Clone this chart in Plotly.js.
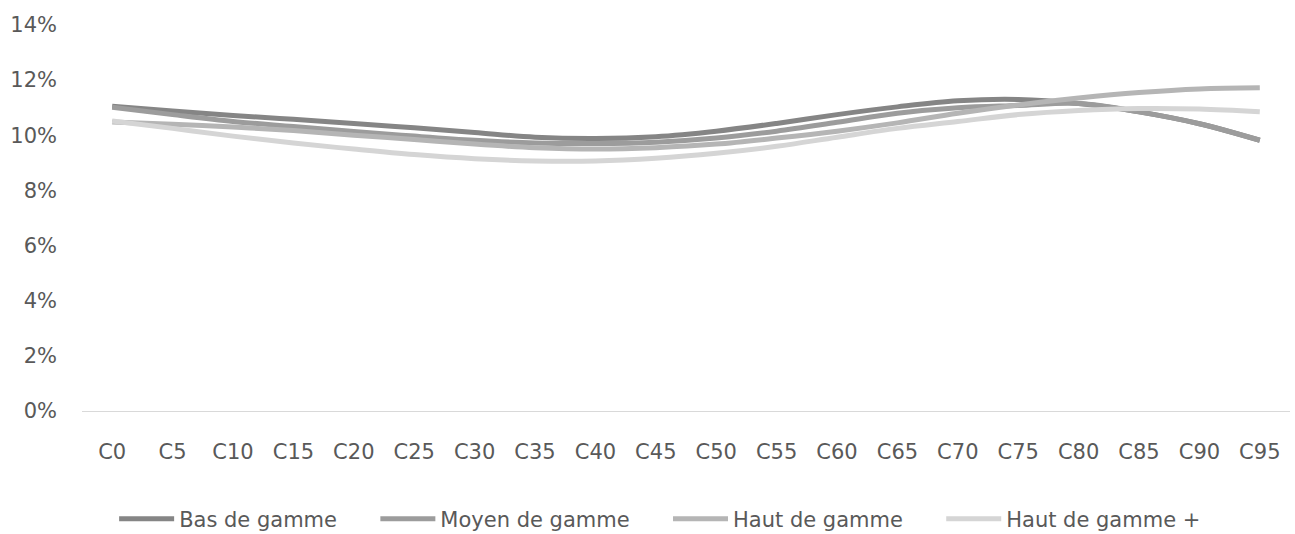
<!DOCTYPE html>
<html>
<head>
<meta charset="utf-8">
<script src="https://cdn.plot.ly/plotly-3.0.1.min.js"></script>
<style>html,body{margin:0;padding:0;background:#fff;}#chart{width:1295px;height:534px;}</style>
</head>
<body>
<div id="chart"></div>
<script>
const categories = ["C0","C5","C10","C15","C20","C25","C30","C35","C40","C45","C50","C55","C60","C65","C70","C75","C80","C85","C90","C95"];
const basDeGamme   = [11.05,10.88,10.72,10.58,10.43,10.27,10.10,9.93,9.88,9.95,10.15,10.43,10.75,11.03,11.25,11.30,11.15,10.85,10.42,9.82];
const moyenDeGamme = [11.02,10.75,10.50,10.32,10.14,9.97,9.82,9.72,9.70,9.75,9.90,10.15,10.47,10.80,11.00,11.08,11.15,10.85,10.42,9.82];
const hautDeGamme  = [10.48,10.40,10.30,10.17,10.00,9.85,9.68,9.55,9.50,9.55,9.68,9.90,10.15,10.45,10.80,11.10,11.35,11.55,11.68,11.72];
const hautDeGammePlus = [10.52,10.25,9.97,9.72,9.50,9.30,9.15,9.07,9.07,9.17,9.35,9.60,9.93,10.25,10.50,10.75,10.90,10.97,10.95,10.85];
const seriesNames = ["Bas de gamme","Moyen de gamme","Haut de gamme","Haut de gamme +"];
const seriesColors = ["#858585","#9c9c9c","#b5b5b5","#d5d5d5"];
const seriesData = [basDeGamme, moyenDeGamme, hautDeGamme, hautDeGammePlus];
const yTicks = [0,2,4,6,8,10,12,14];

const legendPad = "\u00a0\u00a0\u00a0\u00a0\u00a0";
const traces = seriesData.map((vals, i) => ({
  type: "scatter", mode: "lines", name: seriesNames[i] + legendPad,
  x: categories, y: vals,
  line: {color: seriesColors[i], width: 5, shape: "spline", smoothing: 1}
}));

const font = {family: "DejaVu Sans, Verdana, sans-serif", size: 21, color: "#595959"};
const layout = {
  width: 1295, height: 534,
  margin: {l: 82, r: 5, t: 25, b: 123},
  paper_bgcolor: "#fff", plot_bgcolor: "#fff",
  font: font,
  showlegend: true,
  legend: {orientation: "h", x: 0.0266, xanchor: "left", yref: "container", y: 0.028, yanchor: "middle", font: font,
           traceorder: "normal", itemwidth: 55},
  xaxis: {type: "category", range: [-0.5, 19.5], showgrid: false, zeroline: false, showline: true,
          linecolor: "#d9d9d9", linewidth: 1, ticks: "", tickfont: font, ticklabelstandoff: 22},
  yaxis: {range: [0, 14], tickvals: yTicks, ticktext: yTicks.map(v => v + "%"), showgrid: false, zeroline: false,
          showline: false, ticks: "", tickfont: font, ticklabelstandoff: 24}
};
Plotly.newPlot("chart", traces, layout, {displayModeBar: false, staticPlot: true});
</script>
</body>
</html>
